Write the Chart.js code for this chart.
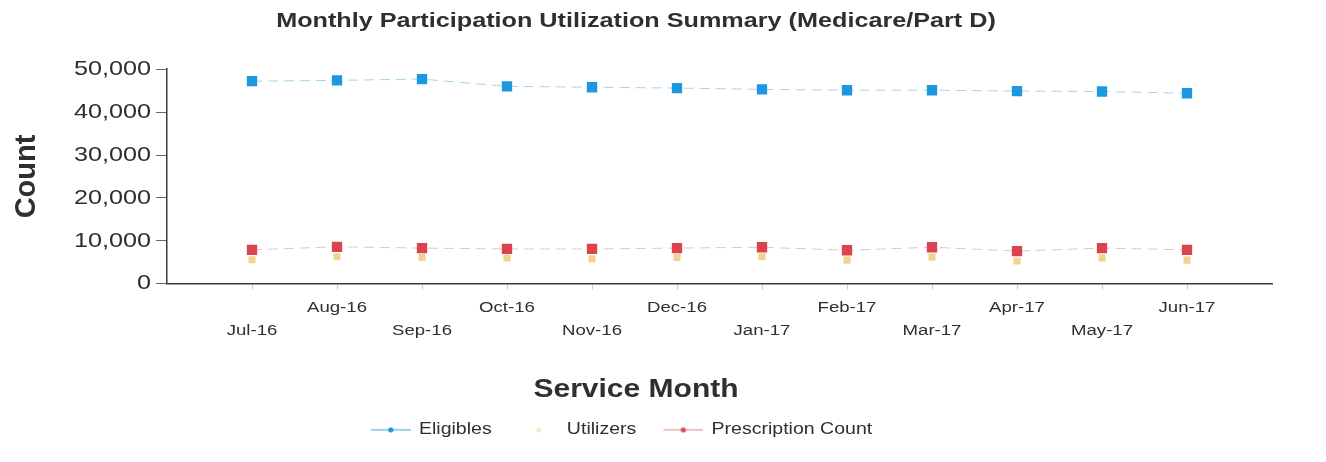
<!DOCTYPE html>
<html>
<head>
<meta charset="utf-8">
<script src="https://cdn.jsdelivr.net/npm/chart.js@4"></script>
<style>
  html, body { margin: 0; padding: 0; background: #ffffff; }
  #wrap { width: 1326px; height: 462px; position: relative; }
</style>
</head>
<body>
<div id="wrap"><canvas id="c" width="1326" height="462"></canvas></div>
<script>
const categories = ['Jul-16','Aug-16','Sep-16','Oct-16','Nov-16','Dec-16','Jan-17','Feb-17','Mar-17','Apr-17','May-17','Jun-17'];
const eligibles = [47200, 47400, 47700, 46000, 45800, 45600, 45300, 45100, 45100, 44900, 44800, 44400];
const utilizers = [5600, 6300, 6100, 6000, 5800, 6100, 6300, 5500, 6200, 5300, 6000, 5500];
const prescriptions = [7900, 8600, 8300, 8100, 8100, 8300, 8500, 7800, 8500, 7600, 8300, 7900];
const yTickValues = [0, 10000, 20000, 30000, 40000, 50000];
const seriesNames = ['Eligibles', 'Utilizers', 'Prescription Count'];

const FONT = '"Liberation Sans", Arial, Helvetica, sans-serif';
const TEXT = '#2d302f';

// The reference scan is slightly stretched horizontally: widen unrotated text the same way.
const STRETCH = 1.2;
(function () {
  const P = CanvasRenderingContext2D.prototype;
  const origFill = P.fillText;
  const origMeasure = P.measureText;
  P.fillText = function (t, x, y, mw) {
    const m = this.getTransform();
    if (Math.abs(m.b) > 1e-6 || Math.abs(m.c) > 1e-6) return origFill.call(this, t, x, y);
    this.save();
    this.translate(x, y);
    this.scale(STRETCH, 1);
    origFill.call(this, t, 0, 0);
    this.restore();
  };
  P.measureText = function (t) {
    const r = origMeasure.call(this, t);
    return {
      width: r.width * STRETCH,
      actualBoundingBoxAscent: r.actualBoundingBoxAscent,
      actualBoundingBoxDescent: r.actualBoundingBoxDescent,
      actualBoundingBoxLeft: r.actualBoundingBoxLeft * STRETCH,
      actualBoundingBoxRight: r.actualBoundingBoxRight * STRETCH,
      fontBoundingBoxAscent: r.fontBoundingBoxAscent,
      fontBoundingBoxDescent: r.fontBoundingBoxDescent
    };
  };
})();

function toPoints(arr) { return arr.map((v, i) => ({ x: i + 1, y: v })); }

function legendIcon(lineColor, dotColor) {
  const c = document.createElement('canvas');
  c.width = 57; c.height = 10;
  const g = c.getContext('2d');
  g.strokeStyle = lineColor; g.lineWidth = 1.2;
  g.beginPath(); g.moveTo(17, 5); g.lineTo(57, 5); g.stroke();
  g.fillStyle = dotColor;
  g.beginPath(); g.arc(37, 5, 2.6, 0, Math.PI * 2); g.fill();
  return c;
}
const icons = [
  legendIcon('rgba(40,150,220,0.9)', '#1f97df'),
  legendIcon('rgba(255,255,255,0)', 'rgba(240,215,160,0.6)'),
  legendIcon('rgba(215,120,125,0.9)', '#d84a55')
];

const LEGEND_SHIFT = -23;
const shiftLegend = {
  id: 'shiftLegend',
  afterLayout(chart) {
    if (chart.legend) { chart.legend.left += LEGEND_SHIFT; chart.legend.right += LEGEND_SHIFT; }
  }
};

const ctx = document.getElementById('c').getContext('2d');
new Chart(ctx, {
  type: 'line',
  plugins: [shiftLegend],
  data: {
    datasets: [
      {
        label: seriesNames[0],
        data: toPoints(eligibles),
        borderColor: 'rgba(90,175,230,0.55)',
        borderWidth: 1,
        borderDash: [10, 6],
        pointStyle: 'rect',
        pointRadius: 7.3,
        pointBackgroundColor: '#1d98e0',
        pointBorderColor: '#1d98e0',
        pointBorderWidth: 0,
        tension: 0
      },
      {
        label: seriesNames[1],
        data: toPoints(utilizers),
        showLine: false,
        borderColor: 'rgba(0,0,0,0)',
        pointStyle: 'rect',
        pointRadius: 5,
        pointBackgroundColor: '#f3d290',
        pointBorderColor: '#f3d290',
        pointBorderWidth: 0
      },
      {
        label: seriesNames[2],
        data: toPoints(prescriptions),
        borderColor: 'rgba(205,120,130,0.45)',
        borderWidth: 1,
        borderDash: [10, 6],
        pointStyle: 'rect',
        pointRadius: 7.3,
        pointBackgroundColor: '#d9444f',
        pointBorderColor: '#d9444f',
        pointBorderWidth: 0,
        tension: 0
      }
    ]
  },
  options: {
    responsive: false,
    animation: false,
    devicePixelRatio: 1,
    layout: { padding: { left: 0, right: 54, top: 0, bottom: 14 } },
    plugins: {
      title: {
        display: true,
        text: 'Monthly Participation Utilization Summary (Medicare/Part D)',
        color: TEXT,
        font: { family: FONT, size: 21, weight: 'bold' },
        padding: { top: 9, bottom: 35 }
      },
      subtitle: {
        display: true,
        position: 'bottom',
        text: 'Service Month',
        color: TEXT,
        font: { family: FONT, size: 25, weight: 'bold' },
        padding: { top: 29, bottom: 7 }
      },
      legend: {
        position: 'bottom',
        weight: 2500,
        labels: {
          usePointStyle: true,
          pointStyleWidth: 57,
          padding: 10,
          color: TEXT,
          font: { family: FONT, size: 16.3 },
          generateLabels: (chart) => chart.data.datasets.map((ds, i) => ({
            text: ds.label,
            pointStyle: icons[i],
            fillStyle: 'rgba(0,0,0,0)',
            strokeStyle: 'rgba(0,0,0,0)',
            lineWidth: 0,
            hidden: false,
            datasetIndex: i,
            fontColor: TEXT
          }))
        }
      },
      tooltip: { enabled: false }
    },
    scales: {
      x: {
        type: 'linear',
        min: 0,
        max: categories.length + 1,
        afterBuildTicks: (scale) => {
          scale.ticks = categories.map((c, i) => ({ value: i + 1 }));
        },
        afterFit: (scale) => { scale.height = 62; },
        ticks: {
          autoSkip: false,
          maxRotation: 0,
          minRotation: 0,
          padding: 6.5,
          color: TEXT,
          font: { family: FONT, size: 15.5, lineHeight: '23px' },
          callback: (v) => {
            const i = Math.round(v) - 1;
            if (i < 0 || i >= categories.length) return '';
            return (i % 2 === 0) ? ['', categories[i]] : [categories[i], ''];
          }
        },
        grid: {
          display: true,
          drawOnChartArea: false,
          drawTicks: true,
          tickLength: 6,
          tickColor: 'rgba(150,150,150,0.5)'
        },
        border: { display: true, color: '#3a3a3a', width: 1.5 },
        title: { display: false }
      },
      y: {
        type: 'linear',
        min: 0,
        max: 50000,
        afterBuildTicks: (scale) => {
          scale.ticks = yTickValues.map(v => ({ value: v }));
        },
        afterFit: (scale) => { scale.width = 167; },
        ticks: {
          padding: 5,
          color: TEXT,
          font: { family: FONT, size: 21 },
          callback: (v) => Number(v).toLocaleString('en-US')
        },
        grid: {
          display: true,
          drawOnChartArea: false,
          drawTicks: true,
          tickLength: 11,
          tickColor: '#666'
        },
        border: { display: true, color: '#3a3a3a', width: 1.5 },
        title: {
          display: true,
          text: 'Count',
          color: TEXT,
          font: { family: FONT, size: 29, weight: 'bold' },
          padding: { top: 10, bottom: 0 }
        }
      }
    }
  }
});
</script>
</body>
</html>
